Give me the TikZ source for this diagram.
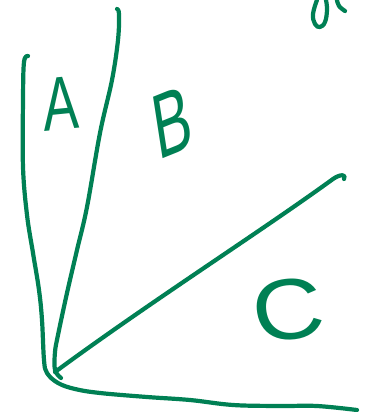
\documentclass[tikz,border=0pt]{standalone}
\usepackage{fontspec}
\setmainfont{Liberation Sans}
\definecolor{ink}{RGB}{0,128,84}
\begin{document}
\begin{tikzpicture}[x=1pt,y=-1pt,
  pen/.style={draw=ink,line width=4.2pt,line cap=round,line join=round},
  letter/.style={text=ink,inner sep=0pt,anchor=center}]
\useasboundingbox[fill=white] (0,0) rectangle (367,412);
% left arm and bottom arm
\draw[pen] plot[smooth,tension=0.6] coordinates {(28,56) (24,62) (23,100) (23,167) (27,215) (33,253) (39,290) (42,320) (44,360) (47,373) (58,383) (75,389) (100,393) (147,397) (190,400) (233,405) (280,406) (317,406) (357,410)};
% middle arm
\draw[pen] plot[smooth,tension=0.6] coordinates {(117,9) (119,14) (118,40) (112,80) (100,133) (87,207) (77,250) (67,293) (58,335) (55,352) (55,370) (61,378)};
% right arm
\draw[pen] (55,372) .. controls (150,302) and (260,232) .. (333,179) .. controls (340,174) and (347,174) .. (344,179);
% partial letter at top right
\draw[pen] plot[smooth,tension=0.7] coordinates {(317,0) (313,14) (315,24) (320,27) (325,22) (327,10) (326,0)};
\draw[pen] plot[smooth,tension=0.7] coordinates {(337,0) (339,6) (345,11)};
% letters
\node[letter,font=\fontsize{76}{76}\selectfont,xscale=0.7,rotate=4] (A) at (61,104) {A};
\node[letter,font=\fontsize{92}{92}\selectfont,xscale=0.62,rotate=14] (B) at (172,122) {B};
\node[letter,font=\fontsize{86}{86}\selectfont,xscale=1.15,rotate=8] (C) at (288,310) {C};
\end{tikzpicture}
\end{document}
